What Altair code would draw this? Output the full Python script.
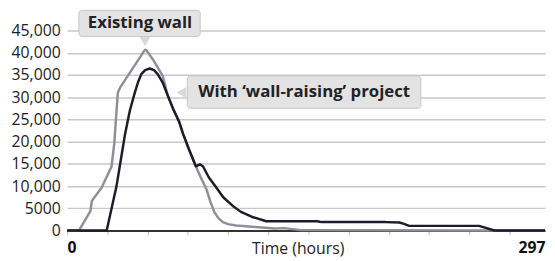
import altair as alt
import pandas as pd

# ---- data ----
existing_hours = [0, 7.3, 14.4, 15.4, 21.5, 27.6, 29.3, 31.5, 33, 48.4, 49.2, 53.3, 59.4, 62.5, 66, 69.6, 72, 76, 80,
                  83, 86.6, 89, 91.6, 94, 96.8, 100, 105, 117, 129, 135, 145, 200, 250, 297]
existing_vals = [0, 0, 4300, 6700, 9700, 14400, 19600, 31000, 32200, 40700, 40600, 38500, 34800, 30400, 27300,
                 24500, 21800, 18000, 14450, 12000, 9300, 6500, 4100, 2800, 1900, 1450, 1150, 800, 450, 550,
                 100, 60, 0, 0]

raising_hours = [0, 24.6, 30.7, 35.9, 39, 42.1, 44, 46.1, 48.5, 51.3, 54, 56.3, 59.5, 62.5, 66, 69.6, 72, 76, 80,
                 82.5, 84.5, 88, 92.7, 97, 102.8, 108, 115, 117.6, 123.7, 155.5, 158, 198, 206.5, 209.4, 212.5,
                 256, 265.6, 297]
raising_vals = [0, 0, 10000, 21500, 27000, 31100, 33300, 35200, 36100, 36450, 36100, 35200, 33200, 30400, 27300,
                24500, 21800, 18000, 14450, 14900, 14400, 12000, 9700, 7500, 5600, 4200, 3050, 2800, 2100, 2100,
                1900, 1900, 1800, 1500, 1050, 1050, 0, 0]

y_ticks = [0, 5000, 10000, 15000, 20000, 25000, 30000, 35000, 40000, 45000]
x_ticks = [0, 25, 50, 75, 100, 125, 150, 175, 200, 225, 250, 275, 297]

ann_text = ["Existing wall", "With \u2018wall-raising\u2019 project"]

# ---- tables ----
df = pd.concat([
    pd.DataFrame({"hour": existing_hours, "value": existing_vals, "series": "Existing wall", "order": 1}),
    pd.DataFrame({"hour": raising_hours, "value": raising_vals, "series": "Wall-raising", "order": 0}),
])

boxes = pd.DataFrame({
    "x1": [7.35, 74.7], "x2": [82.7, 219.8],
    "y1": [43670, 27490], "y2": [49545, 34800],
})
texts = pd.DataFrame({"hour": [45.3, 147.3], "value": [46650, 31050], "label": ann_text})
tri_down = pd.DataFrame({"hour": [48.4], "value": [42500]})
tri_left = pd.DataFrame({"hour": [71.0], "value": [31035]})

FONT = "Open Sans"
W, H = 485, 203

xscale = alt.Scale(domain=[0, 297], nice=False, zero=True)
yscale = alt.Scale(domain=[0, 45000], nice=False)

xaxis = alt.Axis(values=x_ticks, grid=False, title="Time (hours)",
                 labelExpr="datum.value == 0 ? '0' : (datum.value == 297 ? '297' : '')",
                 labelFlush=True, labelFont=FONT, labelFontSize=16, labelFontWeight="bold",
                 labelColor="#111111", labelPadding=18, labelBaseline="alphabetic",
                 tickColor="#bbbbbb", tickSize=4, tickWidth=1,
                 tickOpacity={"condition": {"test": "datum.value == 297", "value": 0}, "value": 1},
                 domainColor="#333333", domainWidth=2,
                 titleFont=FONT, titleFontSize=16, titleFontWeight="normal", titleColor="#222222",
                 titleX=234, titleY=23, titleAlign="center", titleBaseline="alphabetic")
yaxis = alt.Axis(values=y_ticks, title=None, domain=False, ticks=False, labelOverlap=False,
                 labelExpr="datum.value == 5000 ? '5000' : format(datum.value, ',')",
                 labelFont=FONT, labelFontSize=16, labelColor="#222222", labelPadding=7,
                 gridColor="#c8c8c8", gridWidth=1.5)

lines = alt.Chart(df).mark_line(strokeWidth=2.5, strokeJoin="round").encode(
    x=alt.X("hour:Q", scale=xscale, axis=xaxis),
    y=alt.Y("value:Q", scale=yscale, axis=yaxis),
    color=alt.Color("series:N", scale=alt.Scale(domain=["Existing wall", "Wall-raising"],
                                                range=["#8f8f9c", "#1c1c2a"]), legend=None),
    order=alt.Order("order:Q"),
    detail="series:N",
)

box_layer = alt.Chart(boxes).mark_rect(fill="#e3e3e3", stroke="#c6c6c6", strokeWidth=1, cornerRadius=3).encode(
    x=alt.X("x1:Q", scale=xscale, axis=xaxis), x2="x2:Q",
    y=alt.Y("y1:Q", scale=yscale, axis=yaxis), y2="y2:Q",
)

tri1 = alt.Chart(tri_down).mark_point(shape="triangle-down", filled=True, fill="#d9d9d9", opacity=1,
                                       size=120, strokeWidth=0).encode(
    x=alt.X("hour:Q", scale=xscale, axis=xaxis), y=alt.Y("value:Q", scale=yscale, axis=yaxis))
tri2 = alt.Chart(tri_left).mark_point(shape="triangle-left", filled=True, fill="#d9d9d9", opacity=1,
                                       size=130, strokeWidth=0).encode(
    x=alt.X("hour:Q", scale=xscale, axis=xaxis), y=alt.Y("value:Q", scale=yscale, axis=yaxis))

text_layer = alt.Chart(texts).mark_text(font=FONT, fontSize=17, fontWeight="bold", color="#222222",
                                        align="center", baseline="middle").encode(
    x=alt.X("hour:Q", scale=xscale, axis=xaxis), y=alt.Y("value:Q", scale=yscale, axis=yaxis), text="label:N")

chart = alt.layer(lines, tri1, tri2, box_layer, text_layer).properties(
    width=W, height=H,
    autosize=alt.AutoSizeParams(type="none"),
    padding={"left": 60, "top": 21, "right": 2, "bottom": 26},
    background="white",
).configure_view(stroke=None)

chart.save("out.html", embed_options={"renderer": "svg", "actions": False})
